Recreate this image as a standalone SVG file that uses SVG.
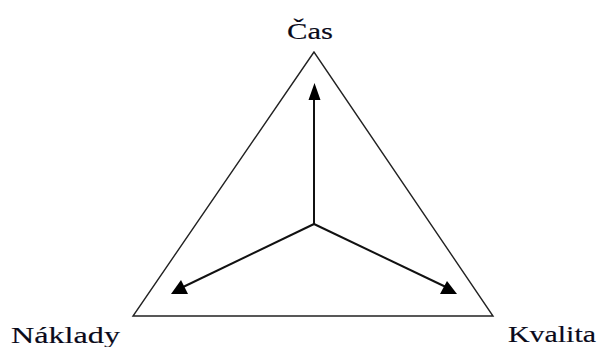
<svg xmlns="http://www.w3.org/2000/svg" width="599" height="347" viewBox="0 0 599 347">
<style>
.lbl{font-family:"Liberation Serif","Times New Roman",serif;font-size:23.5px;fill:#0a0a1a;stroke:#0a0a1a;stroke-width:0.15;}
.tri{fill:none;stroke:#222;stroke-width:1.4;}
.arr{stroke:#111;stroke-width:2;fill:none;}
.head{fill:#000;}
</style>
<rect width="599" height="347" fill="#fff"/>
<g id="triangle"><polygon class="tri" points="314,52 133,316 493,316"/></g>
<g id="connectors">
<line class="arr" x1="314" y1="224" x2="314" y2="98"/>
<polygon class="head" points="314.5,83 308.5,100 320.5,100"/>
<line class="arr" x1="314" y1="224" x2="181" y2="288"/>
<polygon class="head" points="181,280 171,294 188,294"/>
<line class="arr" x1="314" y1="224" x2="448" y2="288"/>
<polygon class="head" points="447,281 440,294 457,294"/>
</g>
<g id="node-cas"><text class="lbl" x="287" y="39" textLength="46" lengthAdjust="spacingAndGlyphs">Čas</text></g>
<g id="node-naklady"><text class="lbl" x="11" y="343" textLength="109" lengthAdjust="spacingAndGlyphs">Náklady</text></g>
<g id="node-kvalita"><text class="lbl" x="508" y="342" textLength="88" lengthAdjust="spacingAndGlyphs">Kvalita</text></g>
</svg>
